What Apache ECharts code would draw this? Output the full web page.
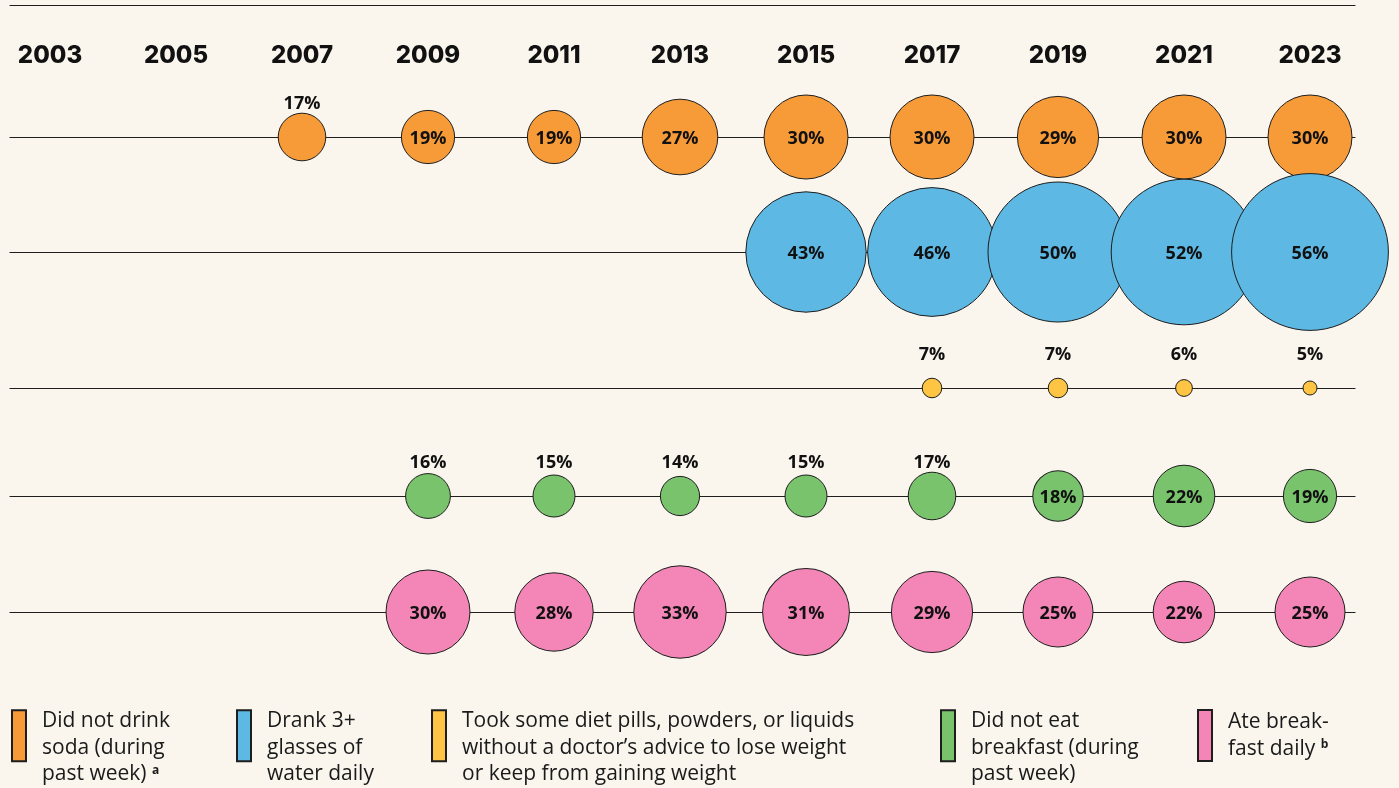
<!DOCTYPE html>
<html>
<head>
<meta charset="utf-8">
<script src="https://cdn.jsdelivr.net/npm/echarts@6/dist/echarts.min.js"></script>
<style>
  html, body { margin: 0; padding: 0; background: #faf6ee; }
  #chart { width: 1399px; height: 788px; }
</style>
</head>
<body>
<div id="chart"></div>
<script>
// survey years (x axis)
const years = [2003, 2005, 2007, 2009, 2011, 2013, 2015, 2017, 2019, 2021, 2023];

// percentages per row, null = not asked that year
const soda        = [null, null, 17, 19, 19, 27, 30, 30, 29, 30, 30];
const water       = [null, null, null, null, null, null, 43, 46, 50, 52, 56];
const dietPills   = [null, null, null, null, null, null, null, 7, 7, 6, 5];
const noBreakfast = [null, null, null, 16, 15, 14, 15, 17, 18, 22, 19];
const breakfast   = [null, null, null, 30, 28, 33, 31, 29, 25, 22, 25];

const seriesNames = ['soda', 'water', 'pills', 'noBreakfast', 'breakfast'];
const legendTexts = [
  'Did not drink\nsoda (during\npast week) {s|a}',
  'Drank 3+\nglasses of\nwater daily',
  'Took some diet pills, powders, or liquids\nwithout a doctor\u2019s advice to lose weight\nor keep from gaining weight',
  'Did not eat\nbreakfast (during\npast week)',
  'Ate break-\nfast daily {s|b}'
];
const rows = [soda, water, dietPills, noBreakfast, breakfast];

// layout
const colors = ['#f79a38', '#5db8e4', '#fdc543', '#79c36d', '#f386b7'];
const rowY = [137, 252, 388, 496, 612];
const legendLeft = [11, 236, 431, 940, 1197];
const pxPerYear = 63;
const xMin = 2003 - 40 / pxPerYear;
const xMax = 2023 + 45 / pxPerYear;
const lineColor = '#1e1e1e';
const font = '"Open Sans", sans-serif';

let myChart = echarts.init(document.getElementById('chart'));

let grids = [{ left: 10, right: 44, top: 5, height: 60 }];
let xAxes = [{
  gridIndex: 0, type: 'value', min: xMin, max: xMax, position: 'top',
  axisLine: { show: true, onZero: false, lineStyle: { color: lineColor, width: 1.2 } },
  axisTick: { show: false },
  splitLine: { show: false },
  axisLabel: {
    inside: true, margin: 39, customValues: years,
    formatter: v => String(v),
    fontSize: 24, fontWeight: 800, color: '#111', fontFamily: 'Inter, sans-serif'
  }
}];
let yAxes = [{ gridIndex: 0, type: 'value', min: 0, max: 1, show: false }];
let series = [];
let legends = [];

rows.forEach((vals, i) => {
  grids.push({ left: 10, right: 44, top: rowY[i] - 50, height: 100 });
  xAxes.push({
    gridIndex: i + 1, type: 'value', min: xMin, max: xMax,
    axisLine: { show: true, onZero: true, lineStyle: { color: lineColor, width: 1.2 } },
    axisTick: { show: false }, axisLabel: { show: false }, splitLine: { show: false }
  });
  yAxes.push({ gridIndex: i + 1, type: 'value', min: -1, max: 1, show: false });

  let data = [];
  vals.forEach((v, j) => {
    if (v == null) return;
    data.push({
      value: [years[j], 0, v],
      // small bubbles get their number above
      label: v >= 18 ? { position: 'inside', offset: [0, 2] } : { position: 'inside', offset: [0, -33] }
    });
  });

  series.push({
    name: seriesNames[i],
    type: 'scatter',
    xAxisIndex: i + 1,
    yAxisIndex: i + 1,
    symbol: 'circle',
    symbolSize: d => d[2] * 2.8,
    itemStyle: { color: colors[i], borderColor: lineColor, borderWidth: 1, opacity: 1 },
    label: {
      show: true,
      formatter: p => p.value[2] + '%',
      fontSize: 18, fontWeight: 700, color: '#111', fontFamily: font
    },
    emphasis: { disabled: true },
    data: data
  });

  legends.push({
    data: [seriesNames[i]],
    left: legendLeft[i],
    top: i === 4 ? 709 : 684,
    padding: 0,
    icon: 'rect',
    itemWidth: 14,
    itemHeight: 51,
    selectedMode: false,
    formatter: name => legendTexts[seriesNames.indexOf(name)],
    textStyle: {
      fontSize: 21, lineHeight: 26.5, color: '#1a1a1a', fontFamily: font,
      padding: i === 4 ? [0, 0, 0, 11] : [24, 0, 0, 11],
      rich: {
        s: { fontSize: 12, fontWeight: 'bold', color: '#1a1a1a', fontFamily: font, padding: [0, 0, 8, 0] }
      }
    }
  });
});

let option = {
  backgroundColor: '#faf6ee',
  animation: false,
  grid: grids,
  xAxis: xAxes,
  yAxis: yAxes,
  legend: legends,
  series: series
};
myChart.setOption(option);
</script>
</body>
</html>
